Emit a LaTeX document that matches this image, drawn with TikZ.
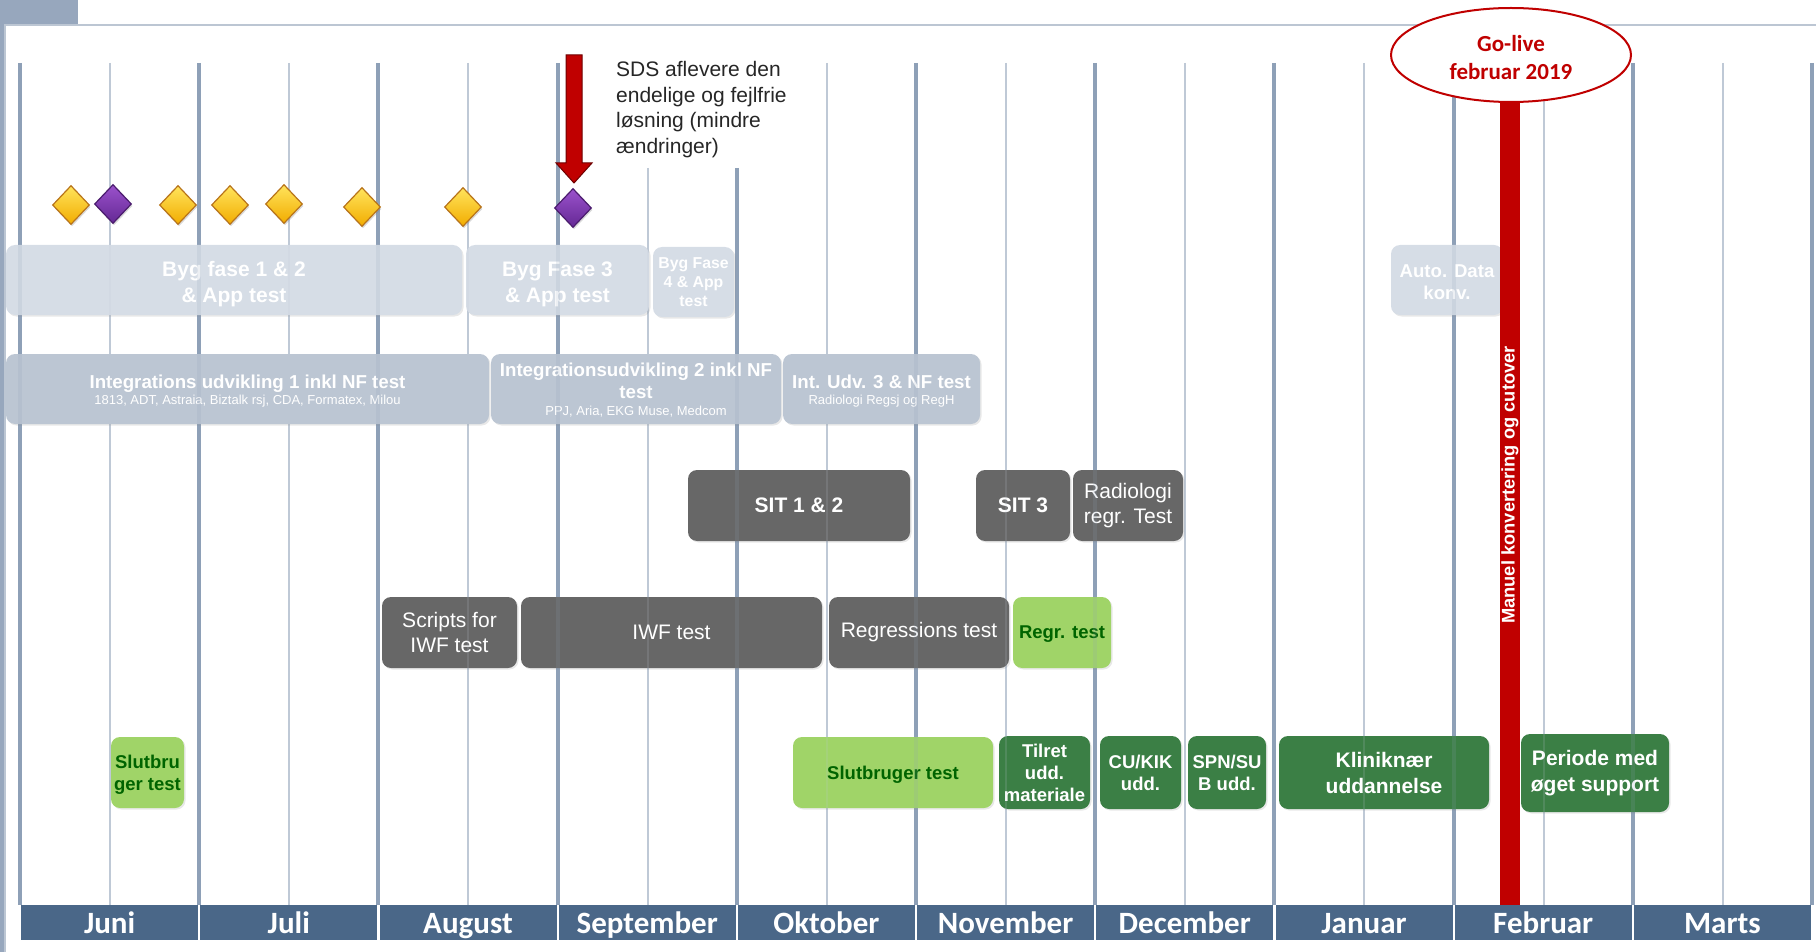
\documentclass[tikz,border=0pt]{standalone}
\usepackage{fontspec}
\setmainfont{Liberation Sans}
\newfontfamily\calib{Carlito}
\usetikzlibrary{shapes.geometric,shadows}
\definecolor{gridthick}{HTML}{8EA0B7}
\definecolor{gridthin}{HTML}{BFC9D6}
\definecolor{monthbar}{HTML}{4A6788}
\definecolor{frameblk}{HTML}{97A7BD}
\definecolor{frameln}{HTML}{BCC6D3}
\definecolor{paleA}{HTML}{D6DDE6}
\definecolor{paleB}{HTML}{BCC6D3}
\definecolor{darkbox}{HTML}{676767}
\definecolor{lgreen}{HTML}{A0D468}
\definecolor{dgreen}{HTML}{3B7F45}
\definecolor{gtext}{HTML}{006400}
\definecolor{redc}{HTML}{C00000}
\definecolor{redd}{HTML}{6E0000}
\definecolor{ytop}{HTML}{FFE45C}
\definecolor{ybot}{HTML}{F2AC00}
\definecolor{yedge}{HTML}{B8741A}
\definecolor{ptop}{HTML}{9B52CC}
\definecolor{pbot}{HTML}{642894}
\definecolor{pedge}{HTML}{4B1C6E}
\newcommand\tlbox[7]{\node[#1,minimum width={(#5-#3)*1pt},minimum height={(#6-#4)*1pt}] (#2) at ({(#3+#5)/2},{(#4+#6)/2}) {#7};}
\tikzset{
  box/.style={rounded corners=9pt, inner sep=0pt, align=center, text=white,
    drop shadow={opacity=0.18,shadow xshift=1.5pt,shadow yshift=-1.5pt}},
  paleone/.style={box, fill=paleA},
  paletwo/.style={box, fill=paleB},
  darkb/.style={box, fill=darkbox},
  lgb/.style={box, fill=lgreen, text=gtext, text depth=0pt, font=\bfseries\fontsize{18.5}{22}\selectfont},
  dgb/.style={box, fill=dgreen, font=\bfseries\fontsize{18.5}{22}\selectfont},
  fb/.style={font=\bfseries\fontsize{21}{26}\selectfont},
  fr/.style={font=\fontsize{21}{25}\selectfont},
  boxtext/.style={inner sep=0pt, align=center, text=white},
  ydiam/.style={diamond, minimum width=37pt, minimum height=39pt, inner sep=0pt,
    top color=ytop, bottom color=ybot, draw=yedge, line width=1.2pt,
    drop shadow={opacity=0.3,shadow xshift=1pt,shadow yshift=-2pt}},
  pdiam/.style={ydiam, top color=ptop, bottom color=pbot, draw=pedge},
  monthbox/.style={fill=monthbar, text=white, inner sep=0pt, text height=26pt, text depth=5pt,
    minimum width=177pt, minimum height=35pt, font=\calib\bfseries\fontsize{31}{34}\selectfont},
}
\begin{document}
\begin{tikzpicture}[x=1pt,y=-1pt]
\useasboundingbox (0,0) rectangle (1816,952);
% frame
\fill[frameblk] (0,0) rectangle (78,24);
\draw[frameln, line width=2pt] (4,25) -- (1816,25);
\fill[frameblk] (0,24) rectangle (4,952);
\draw[frameln, line width=1.5pt] (5,25) -- (5,952);
% grid lines
\foreach \k/\t in {0/63,1/63,2/63,3/63,4/168,5/63,6/63,7/63,8/63,9/63,10/63}
  \draw[gridthick, line width=4pt] ({20+179.2*\k},\t) -- ({20+179.2*\k},905);
\foreach \k/\t in {0/63,1/63,2/63,3/168,4/63,5/63,6/63,7/63,8/63,9/63}
  \draw[gridthin, line width=2pt] ({110+179.2*\k},\t) -- ({110+179.2*\k},905);
% row 1
\tlbox{paleone}{b1}{6}{245}{462}{315}{}
\node[boxtext,fb] (b1t) at ([yshift=-4pt]b1.center) {Byg fase 1 \& 2\\\& App test};
\tlbox{paleone}{b2}{466}{245}{649}{315}{}
\node[boxtext,fb] (b2t) at ([yshift=-4pt]b2.center) {Byg Fase 3\\\& App test};
\tlbox{paleone,font=\bfseries\fontsize{15.8}{19}\selectfont}{b3}{653}{247}{734}{317}{Byg Fase\\4 \& App\\test}
\tlbox{paleone}{b4}{1391}{245}{1503}{315}{}
\node[boxtext,font=\bfseries\fontsize{18.6}{22}\selectfont] (b4t) at ([yshift=-2pt]b4.center) {Auto. Data\\konv.};
% row 2
\tlbox{paletwo}{i1}{6}{354}{489}{424}{}
\node[boxtext,font=\fontsize{18.7}{16}\selectfont] (i1t) at ([yshift=-2pt]i1.center) {{\bfseries Integrations udvikling 1 inkl NF test}\\{\fontsize{13}{15}\selectfont 1813, ADT, Astraia, Biztalk rsj, CDA, Formatex, Milou}};
\tlbox{paletwo}{i2}{491}{354}{781}{424}{}
\node[boxtext,font=\fontsize{18.7}{22}\selectfont] (i2t) at ([yshift=-1.5pt]i2.center) {{\bfseries Integrationsudvikling 2 inkl NF}\\{\bfseries test}\\[-5pt]{\fontsize{13}{15}\selectfont PPJ, Aria, EKG Muse, Medcom}};
\tlbox{paletwo}{i3}{783}{354}{980}{424}{}
\node[boxtext,font=\fontsize{18.7}{16}\selectfont] (i3t) at ([yshift=-2pt]i3.center) {{\bfseries Int. Udv. 3 \& NF test}\\{\fontsize{13}{15}\selectfont Radiologi Regsj og RegH}};
% row 3
\tlbox{darkb,fb}{s1}{688}{470}{910}{541}{SIT 1 \& 2}
\tlbox{darkb,fb}{s2}{976}{470}{1070}{541}{SIT 3}
\tlbox{darkb,fr}{s3}{1073}{470}{1183}{541}{Radiologi\\regr. Test}
% row 4
\tlbox{darkb,fr}{r1}{382}{597}{517}{668}{Scripts for\\IWF test}
\tlbox{darkb,fr}{r2}{521}{597}{822}{668}{IWF test}
\tlbox{darkb,fr}{r3}{829}{597}{1009}{668}{Regressions test}
\tlbox{lgb}{r4}{1013}{597}{1111}{668}{Regr. test}
% row 5
\tlbox{lgb}{g1}{111}{737}{184}{808}{Slutbru\\ger test}
\tlbox{lgb}{g2}{793}{737}{993}{808}{Slutbruger test}
\tlbox{dgb}{g3}{999}{736}{1090}{809}{Tilret\\udd.\\materiale}
\tlbox{dgb}{g4}{1100}{736}{1181}{809}{CU/KIK\\udd.}
\tlbox{dgb}{g5}{1188}{736}{1266}{809}{SPN/SU\\B udd.}
\tlbox{dgb,fb}{g6}{1279}{736}{1489}{809}{Kliniknær\\uddannelse}
\tlbox{dgb,fb}{g7}{1521}{734}{1669}{812}{Periode med\\øget support}
% faint grid lines over the boxes
\begin{scope}[opacity=0.16]
\foreach \k in {0,...,10}
  \draw[gridthick, line width=4pt] ({20+179.2*\k},240) -- ({20+179.2*\k},905);
\foreach \k in {0,...,9}
  \draw[gridthin, line width=2pt] ({110+179.2*\k},240) -- ({110+179.2*\k},905);
\end{scope}
% milestones
\node[ydiam] (d1) at (71,205) {};
\node[pdiam] (d2) at (113,204) {};
\node[ydiam] (d3) at (178,205) {};
\node[ydiam] (d4) at (230,205) {};
\node[ydiam] (d5) at (284,204) {};
\node[ydiam] (d6) at (362,207) {};
\node[ydiam] (d7) at (463,207) {};
\node[pdiam] (d8) at (573,208) {};
% red arrow and note
\filldraw[fill=redc, draw=redd, line width=1pt] (566,55) -- (582,55) -- (582,163) -- (592,163) -- (574,183) -- (556,163) -- (566,163) -- cycle;
\node[anchor=west, align=left, inner sep=0pt, text=black!85, font=\fontsize{21}{25.7}\selectfont] (sds) at (616,109.5) {SDS aflevere den\\endelige og fejlfrie\\løsning (mindre\\ændringer)};
% red cutover bar
\fill[redc] (1500,95) rectangle (1520,906);
\node[rotate=90, inner sep=0pt, text=white, font=\bfseries\fontsize{18.3}{20}\selectfont] (manuel) at (1510,485) {Manuel konvertering og cutover};
% go-live ellipse
\node[ellipse, draw=redc, line width=2pt, fill=white, minimum width=240pt, minimum height=94pt, inner sep=0pt] (golive) at (1511,55) {};
\node[boxtext, text=redc, font=\calib\bfseries\fontsize{23}{28}\selectfont] (golivet) at ([yshift=-2.5pt]golive.center) {Go-live\\februar 2019};
% months
\foreach \m [count=\i from 0] in {Juni,Juli,August,September,Oktober,November,December,Januar,Februar,Marts}
  \node[monthbox] (m\i) at ({20+179.2*\i+89.6},922.5) {\m};
\end{tikzpicture}
\end{document}
